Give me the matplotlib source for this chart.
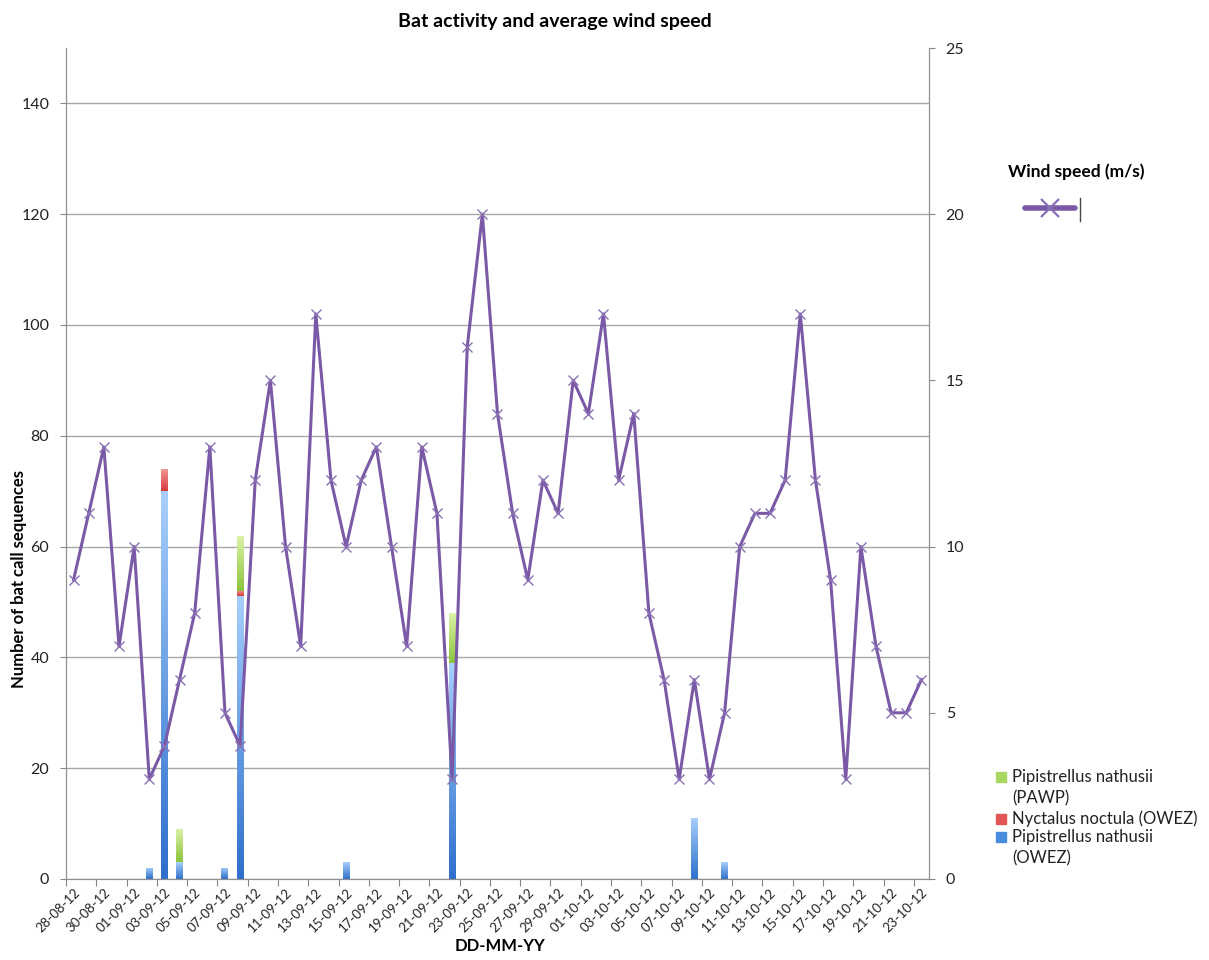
import numpy as np
import matplotlib
matplotlib.use("Agg")
import matplotlib.pyplot as plt
from matplotlib.colors import LinearSegmentedColormap
from matplotlib.patches import Rectangle
from matplotlib.lines import Line2D
import datetime as dt

plt.rcParams['font.family'] = ['Lato', 'DejaVu Sans']

# ---- data ----
start = dt.date(2012, 8, 28)
dates = [start + dt.timedelta(days=i) for i in range(57)]
date_labels = [d.strftime("%d-%m-%y") for d in dates]

wind_speed = [9, 11, 13, 7,
              10, 3, 4, 6, 8, 13, 5, 4, 12, 15, 10, 7, 17, 12, 10, 12, 13, 10, 7, 13, 11, 3,
              16, 20, 14, 11, 9, 12, 11, 15,
              14, 17, 12, 14, 8, 6, 3, 6, 3, 5, 10, 11, 11, 12, 17, 12, 9, 3, 10, 7, 5, 5, 6]

# bat counts: non-zero days {date label: value}
pipi_owez = {"02-09-12": 2, "03-09-12": 70, "04-09-12": 3, "07-09-12": 2, "08-09-12": 51,
             "15-09-12": 3, "22-09-12": 39, "08-10-12": 11, "10-10-12": 3}
nyct_owez = {"03-09-12": 4, "08-09-12": 1}
pipi_pawp = {"04-09-12": 6, "08-09-12": 10, "22-09-12": 9}

blue_series = np.array([pipi_owez.get(l, 0) for l in date_labels], float)
red_series = np.array([nyct_owez.get(l, 0) for l in date_labels], float)
green_series = np.array([pipi_pawp.get(l, 0) for l in date_labels], float)

# ---- figure ----
W, H = 1209, 960
fig = plt.figure(figsize=(W / 100, H / 100), dpi=100)
ax = fig.add_axes([66 / W, 1 - 879 / H, (929 - 66) / W, (879 - 48) / H])
ax2 = ax.twinx()

x = np.arange(len(dates))
bw = 0.46

def grad_bar(xs, heights, bottoms, c_bot, c_top):
    cmap = LinearSegmentedColormap.from_list("g", [c_bot, c_top])
    bars = ax.bar(xs, heights, bw, bottom=bottoms, color='none', linewidth=0, zorder=2)
    grad = np.linspace(0, 1, 128).reshape(-1, 1)
    for b, h, b0, xi in zip(bars, heights, bottoms, xs):
        if h <= 0:
            continue
        im = ax.imshow(grad, extent=[xi - bw / 2, xi + bw / 2, b0, b0 + h], origin='lower',
                       cmap=cmap, aspect='auto', zorder=2, interpolation='bilinear')
        im.set_clip_path(b)

grad_bar(x, blue_series, np.zeros_like(blue_series), "#2f6fcc", "#a6cffb")
grad_bar(x, red_series, blue_series, "#d63a3a", "#f29a9a")
grad_bar(x, green_series, blue_series + red_series, "#8cc43c", "#dcf3a8")

ax.set_xlim(-0.5, len(dates) - 0.5)
ax.set_ylim(0, 150)
ax.set_yticks(range(0, 141, 20))
ax.grid(axis='y', color='#a8a8a8', linewidth=1.0, zorder=0)
ax.set_axisbelow(True)

# x ticks: marks at category boundaries every 2, labels at category centres
ax.set_xticks(np.arange(-0.5, len(dates), 2))
ax.set_xticklabels([])
ax.tick_params(axis='x', which='major', length=5, color='#888888')
ax.set_xticks(x[::2], minor=True)
ax.set_xticklabels(date_labels[::2], minor=True, rotation=45, ha='right',
                   rotation_mode='anchor', fontsize=9.5, color='#222222')
ax.tick_params(axis='x', which='minor', length=0, pad=5)

ax.tick_params(axis='y', length=4, color='#888888', labelsize=11.5, labelcolor='#222222', pad=8)
for a in (ax, ax2):
    a.spines['top'].set_visible(False)
    for sp in ['left', 'right', 'bottom']:
        a.spines[sp].set_color('#909090')

ax2.plot(x, wind_speed, color='#7a5aa6', linewidth=2.2, marker='x', markersize=7,
         markeredgewidth=1.0, markeredgecolor='#8a70b4', zorder=3)
ax2.set_ylim(0, 25)
ax2.set_yticks(range(0, 26, 5))
ax2.tick_params(axis='y', length=4, color='#888888', labelsize=11.5, labelcolor='#222222', pad=8)

fig.text(19 / W, 1 - 688 / H, "Number of bat call sequences", fontsize=12, fontweight='bold',
         rotation=90, ha='center', va='bottom')
fig.text(500 / W, 1 - 946 / H, "DD-MM-YY", fontsize=12, fontweight='bold', ha='center', va='center')
fig.text(555 / W, 1 - 21 / H, "Bat activity and average wind speed", fontsize=14,
         fontweight='bold', ha='center', va='center')

# wind legend
fig.text(1008 / W, 1 - 172 / H, "Wind speed (m/s)", fontsize=12.5, fontweight='bold',
         ha='left', va='center')
fig.add_artist(Line2D([1025 / W, 1075 / W], [1 - 208 / H, 1 - 208 / H], color='#7a5aa6',
                      linewidth=4, solid_capstyle='round'))
fig.add_artist(Line2D([1050 / W], [1 - 208 / H], color='#8a70b4', marker='x', markersize=13,
                      markeredgewidth=1.6, linestyle='none'))
fig.add_artist(Line2D([1080 / W, 1080 / W], [1 - 198 / H, 1 - 221 / H], color='#444444',
                      linewidth=1))

# bar legend
items = [("#a8d860", ["Pipistrellus nathusii", "(PAWP)"], [777, 798]),
         ("#e25555", ["Nyctalus noctula (OWEZ)"], [819]),
         ("#4a8be0", ["Pipistrellus nathusii", "(OWEZ)"], [837, 858])]
for col, lines, ys in items:
    fig.add_artist(Rectangle((996 / W, 1 - (ys[0] + 5) / H), 10 / W, 10 / H, color=col,
                             transform=fig.transFigure))
    for txt, yy in zip(lines, ys):
        fig.text(1012 / W, 1 - yy / H, txt, fontsize=12, ha='left', va='center',
                 color='#222222')

fig.savefig("out.png", dpi=100)
